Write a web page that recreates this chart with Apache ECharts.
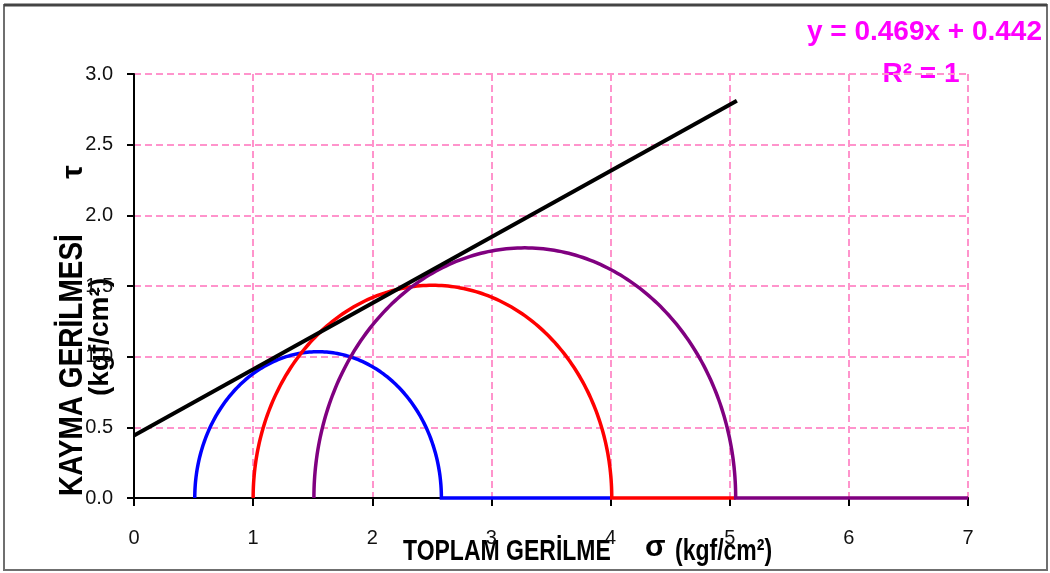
<!DOCTYPE html>
<html>
<head>
<meta charset="utf-8">
<script src="https://cdn.jsdelivr.net/npm/echarts@6/dist/echarts.min.js"></script>
<style>
html,body{margin:0;padding:0;background:#fff;}
#chart{width:1050px;height:573px;}
</style>
</head>
<body>
<div id="chart"></div>
<script>
// ---- data ----
const xTickLabels = ['0', '1', '2', '3', '4', '5', '6', '7'];
const yTickLabels = ['0.0', '0.5', '1.0', '1.5', '2.0', '2.5', '3.0'];
// Mohr circles: minor principal stress (sigma3), major principal stress (sigma1),
// and where each series' trace along tau = 0 ends
const circleNames = ['Daire 1', 'Daire 2', 'Daire 3'];
const sigma3 = [0.51, 1.0, 1.51];
const sigma1 = [2.58, 4.01, 5.05];
const flatEnd = [4.01, 5.05, 7.0];
// failure envelope (trend line) end points
const trendX = [0.0, 5.06];
const trendY = [0.442, 2.81];
const equationText = 'y = 0.469x + 0.442';
const r2Text = 'R² = 1';

const circleColors = ['#0000FF', '#FF0000', '#800080'];

const chart = echarts.init(document.getElementById('chart'));

function renderCircle(params, api) {
  const s3 = api.value(0), s1 = api.value(1), e = api.value(2);
  const c = (s1 + s3) / 2, r = (s1 - s3) / 2;
  const pts = [];
  for (let i = 0; i <= 180; i++) {
    const t = Math.PI * (1 - i / 180);
    pts.push(api.coord([c + r * Math.cos(t), r * Math.sin(t)]));
  }
  pts.push(api.coord([e, 0]));
  return {
    type: 'polyline',
    shape: { points: pts },
    style: { stroke: api.visual('color'), lineWidth: 3.5, fill: 'none' }
  };
}

const circleSeries = circleNames.map((name, i) => ({
  name: name,
  type: 'custom',
  coordinateSystem: 'cartesian2d',
  renderItem: renderCircle,
  itemStyle: { color: circleColors[i] },
  data: [[sigma3[i], sigma1[i], flatEnd[i]]],
  z: 3 + i,
  silent: true
}));

const titleFont = '"Liberation Sans", Arial, sans-serif';

const option = {
  animation: false,
  backgroundColor: '#ffffff',
  grid: { left: 134, right: 82, top: 74, bottom: 75, containLabel: false },
  xAxis: {
    type: 'value',
    min: 0, max: 7, interval: 1,
    axisLine: { show: true, lineStyle: { color: '#000', width: 2 } },
    axisTick: { show: true, length: 8, lineStyle: { color: '#000', width: 2 } },
    axisLabel: {
      margin: 30,
      fontSize: 20,
      fontFamily: titleFont,
      color: '#111',
      formatter: v => xTickLabels[Math.round(v)]
    },
    splitLine: { show: true, lineStyle: { color: '#FF94CC', width: 2, type: [7, 4] } }
  },
  yAxis: {
    type: 'value',
    min: 0, max: 3, interval: 0.5,
    axisLine: { show: true, lineStyle: { color: '#000', width: 2 } },
    axisTick: { show: true, length: 7, lineStyle: { color: '#000', width: 2 } },
    axisLabel: {
      margin: 21,
      fontSize: 20,
      fontFamily: titleFont,
      color: '#111',
      formatter: v => yTickLabels[Math.round(v * 2)]
    },
    splitLine: { show: true, lineStyle: { color: '#FF94CC', width: 2, type: [7, 4] } }
  },
  series: circleSeries.concat([{
    name: 'Zarf',
    type: 'line',
    data: trendX.map((x, i) => [x, trendY[i]]),
    showSymbol: false,
    symbol: 'none',
    lineStyle: { color: '#000', width: 4 },
    z: 10,
    silent: true
  }]),
  graphic: [
    { type: 'rect', shape: { x: 4, y: 5, width: 1043, height: 565 },
      style: { stroke: '#6f6f6f', lineWidth: 2, fill: 'none' }, silent: true },
    { type: 'line', shape: { x1: 4, y1: 5, x2: 1047, y2: 5 },
      style: { stroke: '#444', lineWidth: 3 }, silent: true },
    // equation
    { type: 'text', x: 1042, y: 32,
      style: { text: equationText, font: 'bold 28px ' + titleFont, fill: '#FF00FF', align: 'right', verticalAlign: 'middle' } },
    { type: 'text', x: 921, y: 74,
      style: { text: r2Text, font: 'bold 28px ' + titleFont, fill: '#FF00FF', align: 'center', verticalAlign: 'middle' } },
    // x axis title
    { type: 'text', x: 403, y: 552, scaleY: 1.3,
      style: { text: 'TOPLAM GERİLME', font: 'bold 23px ' + titleFont, fill: '#000', align: 'left', verticalAlign: 'middle' } },
    { type: 'text', x: 645, y: 548,
      style: { text: 'σ', font: 'bold 30px ' + titleFont, fill: '#000', align: 'left', verticalAlign: 'middle' } },
    { type: 'text', x: 675, y: 552, scaleY: 1.3,
      style: { text: '(kgf/cm²)', font: 'bold 23px ' + titleFont, fill: '#000', align: 'left', verticalAlign: 'middle' } },
    // y axis title (rotated)
    { type: 'text', x: 73, y: 496, rotation: Math.PI / 2, scaleY: 1.2,
      style: { text: 'KAYMA GERİLMESİ', font: 'bold 28px ' + titleFont, fill: '#000', align: 'left', verticalAlign: 'middle' } },
    { type: 'text', x: 74, y: 172, rotation: Math.PI / 2,
      style: { text: 'τ', font: 'bold 30px ' + titleFont, fill: '#000', align: 'center', verticalAlign: 'middle' } },
    { type: 'text', x: 100, y: 337, rotation: Math.PI / 2,
      style: { text: '(kgf/cm²)', font: 'bold 28px ' + titleFont, fill: '#000', align: 'center', verticalAlign: 'middle' } }
  ]
};

chart.setOption(option);
</script>
</body>
</html>
